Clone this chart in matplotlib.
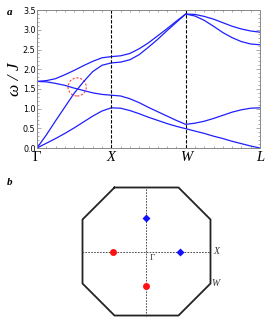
import numpy as np
import matplotlib
matplotlib.use("Agg")
import matplotlib.pyplot as plt
import matplotlib.patches as patches
from matplotlib.ticker import MultipleLocator, FormatStrFormatter

# k path: Gamma -> X -> W -> L, sampled every 1/8 of a segment
k = np.arange(25) / 8.0
kpoints = [0, 1, 2, 3]
klabels = ["Γ", "X", "W", "L"]

band1 = [0.00, 0.12, 0.24, 0.37, 0.51, 0.66, 0.81, 0.94, 1.02,
         1.01, 0.95, 0.87, 0.78, 0.70, 0.62, 0.55, 0.49,
         0.43, 0.37, 0.30, 0.24, 0.17, 0.11, 0.05, 0.00]
band2 = [0.00, 0.33, 0.69, 1.04, 1.39, 1.68, 1.94, 2.10, 2.16,
         2.18, 2.24, 2.37, 2.56, 2.76, 2.98, 3.19, 3.40,
         3.35, 3.24, 3.09, 2.93, 2.80, 2.70, 2.64, 2.62]
band3 = [1.69, 1.71, 1.76, 1.86, 1.97, 2.09, 2.20, 2.29, 2.32,
         2.34, 2.40, 2.52, 2.67, 2.85, 3.03, 3.22, 3.40,
         3.39, 3.34, 3.27, 3.18, 3.09, 3.02, 2.97, 2.94]
band4 = [1.69, 1.68, 1.64, 1.59, 1.52, 1.46, 1.40, 1.36, 1.34,
         1.32, 1.25, 1.15, 1.03, 0.92, 0.81, 0.70, 0.60,
         0.63, 0.68, 0.75, 0.83, 0.91, 0.97, 1.01, 1.02]
bands = [band1, band2, band3, band4]

crossing = (0.54, 1.55)

# Brillouin zone cut (octagon) and special points
octagon_x = [-0.5, 0.5, 1.0, 1.0, 0.5, -0.5, -1.0, -1.0, -0.5]
octagon_y = [1.0, 1.0, 0.5, -0.5, -1.0, -1.0, -0.5, 0.5, 1.0]
blue_x = [0.0, 0.53]
blue_y = [0.53, 0.0]
red_x = [-0.53, 0.0]
red_y = [0.0, -0.54]

serif = "Liberation Serif"

fig = plt.figure(figsize=(2.74, 3.26), dpi=100)

# ---- panel a ----
ax = fig.add_axes([0.135, 0.546, 0.814, 0.423])
for b in bands:
    ax.plot(k, b, color="#1f1fff", lw=0.9)
for kp in [1, 2]:
    ax.axvline(kp, color="black", lw=0.8, ls=(0, (3, 1.5)))
circ = patches.Ellipse(crossing, width=0.245, height=0.46, fill=False,
                       edgecolor="#ff4040", lw=0.8, ls=(0, (2, 1.5)))
ax.add_patch(circ)

ax.set_xlim(0, 3)
ax.set_ylim(0, 3.5)
ax.set_xticks(kpoints)
ax.set_xticklabels(klabels, fontfamily=serif, fontsize=10.5, fontstyle="italic")
ax.get_xticklabels()[0].set_fontstyle("normal")
ax.xaxis.set_minor_locator(MultipleLocator(0.125))
ax.yaxis.set_major_locator(MultipleLocator(0.5))
ax.yaxis.set_minor_locator(MultipleLocator(0.1))
ax.yaxis.set_major_formatter(FormatStrFormatter("%.1f"))
ax.tick_params(which="both", direction="in", top=True, right=True,
               color="#888888", width=0.5)
ax.tick_params(which="major", length=3)
ax.tick_params(which="minor", length=1.5)
ax.tick_params(axis="x", pad=2)
ax.tick_params(axis="y", pad=1, labelsize=5.8)
for s in ax.spines.values():
    s.set_color("#888888")
    s.set_linewidth(0.7)
ax.set_ylabel("ω / J", fontfamily=serif, fontstyle="italic", fontsize=12.5, labelpad=0)

fig.text(0.025, 0.975, "a", fontfamily=serif, fontstyle="italic",
         fontweight="bold", fontsize=8, va="top")
fig.text(0.025, 0.455, "b", fontfamily=serif, fontstyle="italic",
         fontweight="bold", fontsize=8, va="top")

# ---- panel b ----
bx = fig.add_axes([0.2427, 0.0015, 0.5839, 0.454])
bx.plot(octagon_x, octagon_y, color="#222222", lw=1.3)
bx.plot([-1, 1], [0, 0], color="#333333", lw=0.6, ls=(0, (2, 1.5)))
bx.plot([0, 0], [-1, 1], color="#333333", lw=0.6, ls=(0, (2, 1.5)))
bx.plot(blue_x, blue_y, "D", color="#1010ff", ms=4, mec="none")
bx.plot(red_x, red_y, "o", color="#ff1010", ms=5, mec="none")
bx.text(1.04, 0.0, "X", fontfamily=serif, fontstyle="italic", fontsize=7,
        va="center", ha="left", color="#333333")
bx.text(1.02, -0.5, "W", fontfamily=serif, fontstyle="italic", fontsize=7,
        va="center", ha="left", color="#333333")
bx.text(0.05, -0.04, "Γ", fontfamily=serif, fontsize=6.5,
        va="top", ha="left", color="#333333")
bx.set_xlim(-1.25, 1.25)
bx.set_ylim(-1.156, 1.156)
bx.axis("off")

fig.savefig("out.png", dpi=100)
